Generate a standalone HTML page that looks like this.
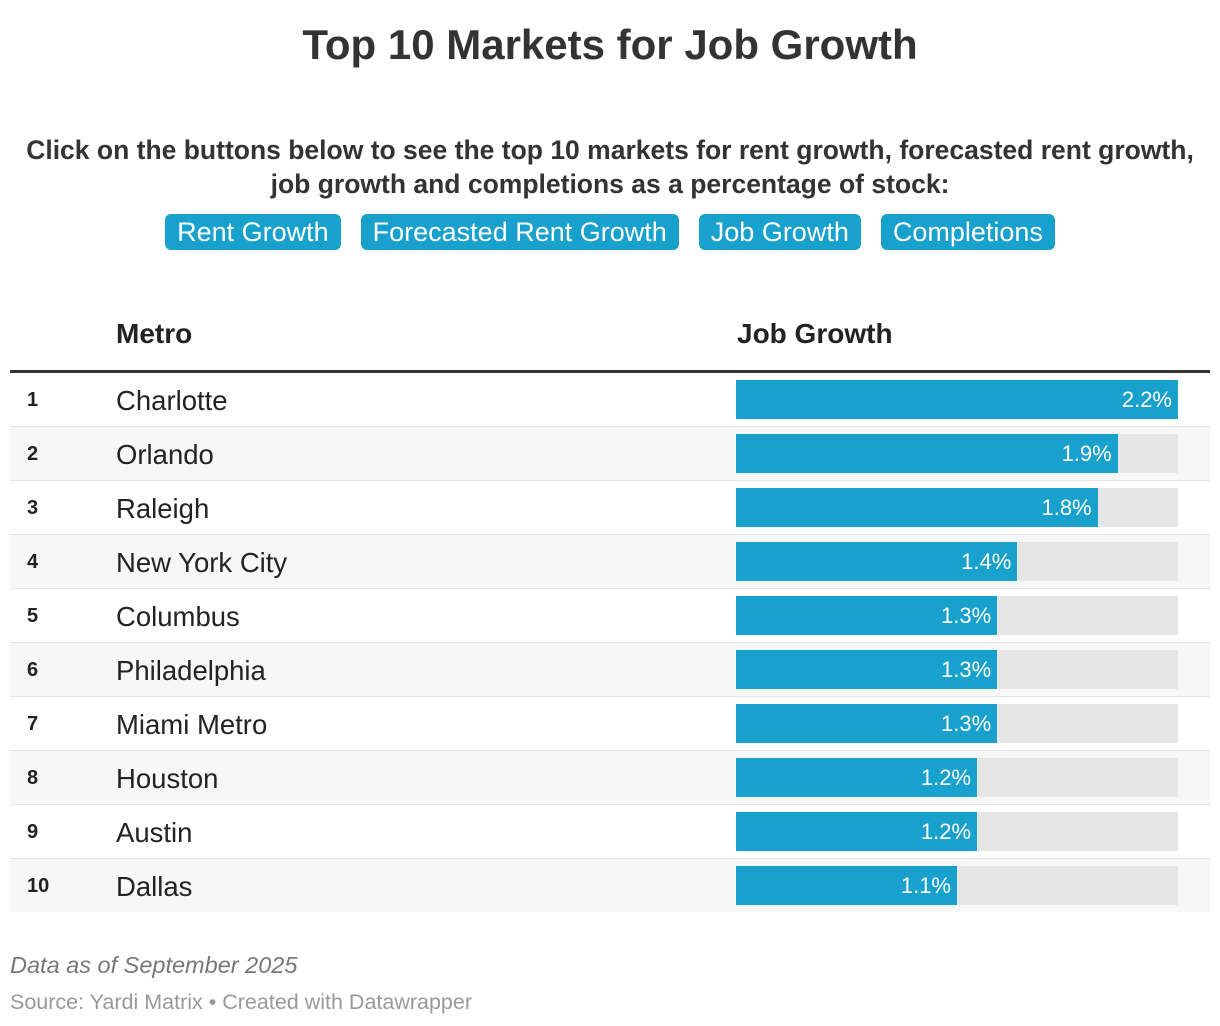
<!DOCTYPE html>
<html><head><meta charset="utf-8">
<style>
body{margin:0;width:1220px;height:1026px;background:#fff;font-family:"Liberation Sans",sans-serif;color:#333;position:relative;overflow:hidden}
.abs{position:absolute}
h1{position:absolute;top:20px;left:0;width:1220px;text-align:center;margin:0;font-size:42px;font-weight:bold;color:#333;line-height:50px}
.sub{top:133px;left:0;width:1220px;text-align:center;font-size:26.5px;font-weight:bold;line-height:34px;color:#333}
.btns{top:214px;left:0;width:1220px;display:flex;justify-content:center;gap:20px}
.btn{background:#18a1cd;color:#fff;font-size:27px;border-radius:6px;padding:0 12px;height:36px;line-height:36px}
.hd{top:318px;font-size:28px;font-weight:bold;color:#222}
.row{position:absolute;left:10px;width:1200px;height:53px;border-bottom:1px solid #e5e5e5}
.rank{position:absolute;left:17px;top:1px;line-height:53px;font-size:20px;font-weight:bold;color:#222}
.name{position:absolute;left:106px;top:1px;line-height:53px;font-size:27.5px;color:#222}
.bg{position:absolute;left:726px;top:7px;width:442px;height:39px;background:#e6e6e6}
.bar{position:absolute;left:726px;top:7px;height:39px;background:#18a1cd;color:#fff;font-size:22px;line-height:39px;text-align:right;box-sizing:border-box;padding-right:6px}
.foot1{top:952px;left:10px;font-size:23.5px;font-style:italic;color:#777}
.foot2{top:990px;left:10px;font-size:21.5px;color:#999}
</style></head><body>
<h1>Top 10 Markets for Job Growth</h1>
<div class="abs sub">Click on the buttons below to see the top 10 markets for rent growth, forecasted rent growth,<br>job growth and completions as a percentage of stock:</div>
<div class="abs btns">
<span class="btn">Rent Growth</span>
<span class="btn">Forecasted Rent Growth</span>
<span class="btn">Job Growth</span>
<span class="btn">Completions</span>
</div>
<div class="abs hd" style="left:116px">Metro</div>
<div class="abs hd" style="left:737px">Job Growth</div>
<div class="abs" style="left:10px;top:370px;width:1200px;height:3px;background:#333"></div>
<div id="tbl"></div>
<div class="abs foot1">Data as of September 2025</div>
<div class="abs foot2">Source: Yardi Matrix • Created with Datawrapper</div>
<script>
const metros=["Charlotte","Orlando","Raleigh","New York City","Columbus","Philadelphia","Miami Metro","Houston","Austin","Dallas"];
const growth=[2.2,1.9,1.8,1.4,1.3,1.3,1.3,1.2,1.2,1.1];
const maxVal=2.2;
const tbl=document.getElementById('tbl');
const x=v=>v/maxVal*442;
metros.forEach((m,i)=>{
  const r=document.createElement('div');
  r.className='row';
  
  
  r.style.top=(373+i*54)+'px';
  r.style.background=i%2?'#f7f7f7':'#fff';
  if(i===metros.length-1) r.style.borderBottom='none';
  const rk=document.createElement('div');rk.className='rank';rk.textContent=i+1;
  
  
  const n=document.createElement('div');n.className='name';n.textContent=m;
  
  
  const bg=document.createElement('div');bg.className='bg';
  
  
  const b=document.createElement('div');b.className='bar';
  b.style.width=x(growth[i])+'px';
  b.textContent=growth[i].toFixed(1)+'%';
  
  
  r.append(rk,n,bg,b);tbl.appendChild(r);
});
</script>
</body></html>
